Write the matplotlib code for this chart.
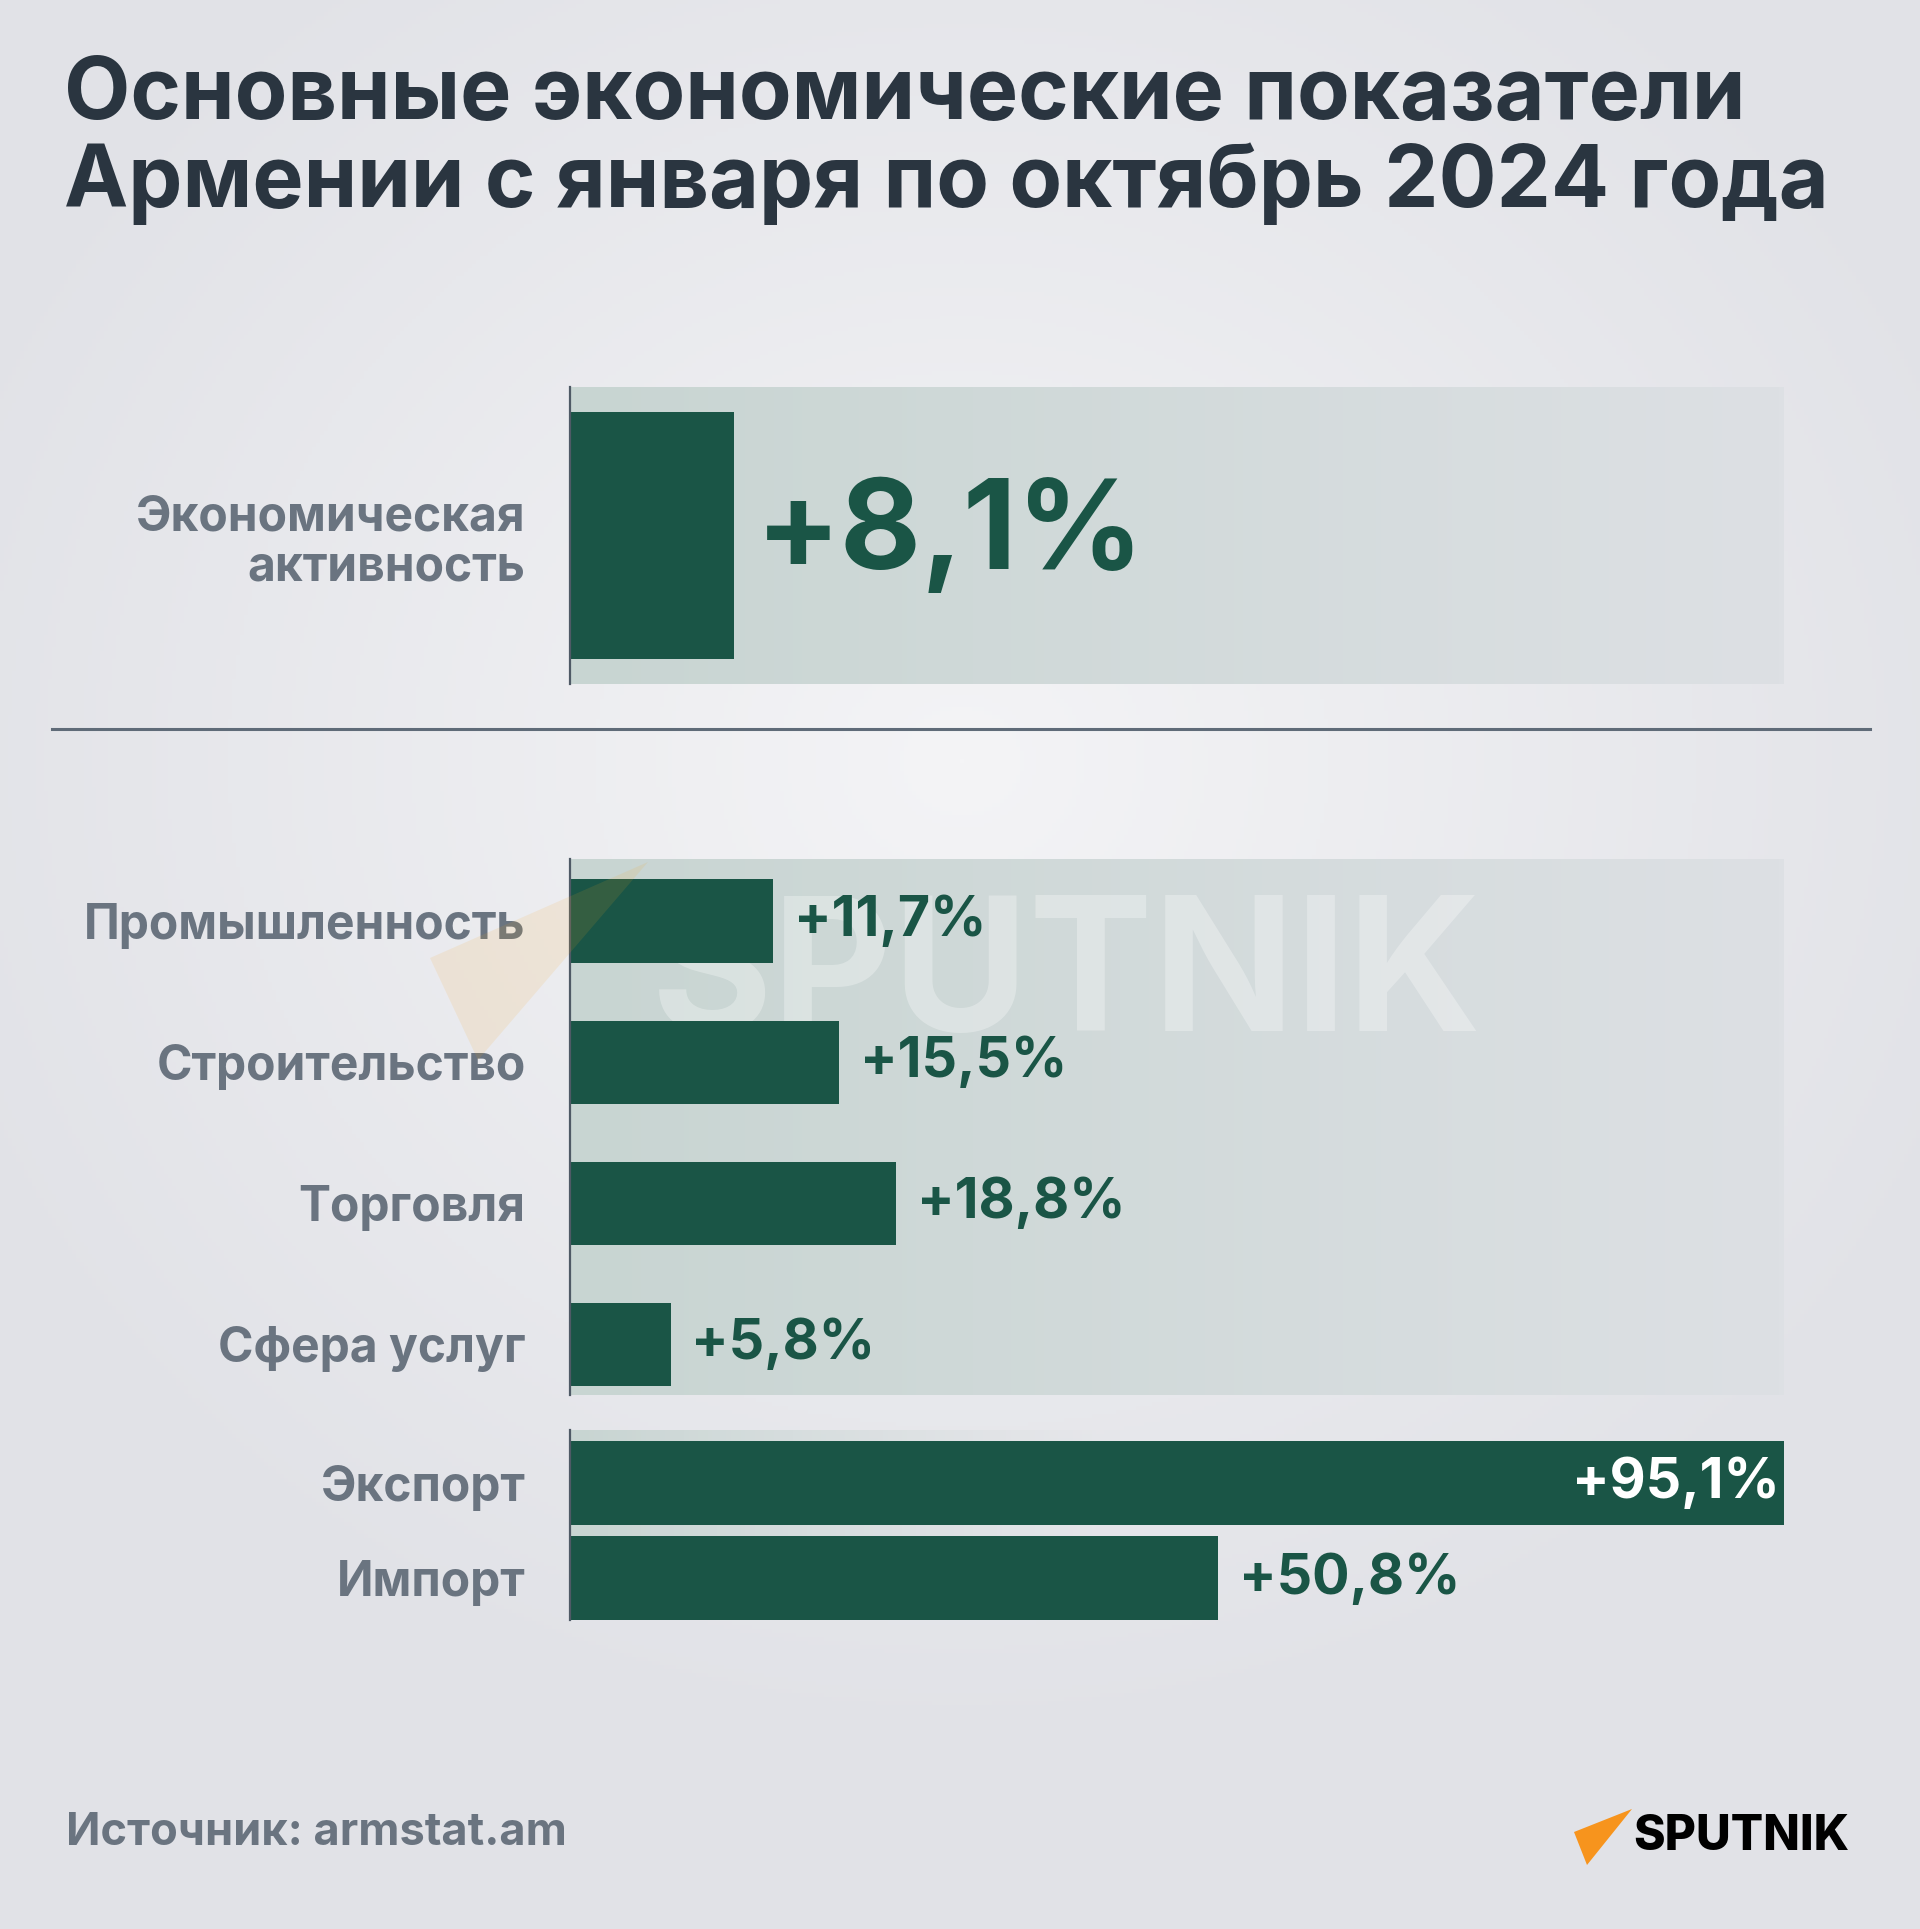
import matplotlib.pyplot as plt
import numpy as np
from matplotlib.colors import to_rgb
from matplotlib.patches import Polygon

plt.rcParams['font.family'] = ['Inter', 'DejaVu Sans']

# data
title = "Основные экономические показатели\nАрмении с января по октябрь 2024 года"
source = "Источник: armstat.am"

top_labels = ["Экономическая\nактивность"]
top_values = [8.1]

mid_labels = ["Промышленность", "Строительство", "Торговля", "Сфера услуг"]
mid_values = [11.7, 15.5, 18.8, 5.8]

trade_labels = ["Экспорт", "Импорт"]
trade_values = [95.1, 50.8]

GREEN = "#1a5546"
GREY = "#6a7480"
DARK = "#2a3540"
AXIS = "#4f5a66"

W, H = 1920, 1929
fig = plt.figure(figsize=(W / 100, H / 100), dpi=100)


def box(x0, y0, x1, y1):
    # pixel box (top-left origin) -> figure fraction rect
    return [x0 / W, 1 - y1 / H, (x1 - x0) / W, (y1 - y0) / H]


def fmt(v):
    return f"+{v:.1f}%".replace(".", ",")


# background: soft radial light in the middle
bg = fig.add_axes([0, 0, 1, 1], zorder=-10)
yy, xx = np.mgrid[0:H:4, 0:W:4]
r = np.sqrt(((xx - 960) / 1100) ** 2 + ((yy - 760) / 1000) ** 2)
t = np.clip(r, 0, 1)[..., None]
c0 = np.array(to_rgb("#f4f4f6"))
c1 = np.array(to_rgb("#e1e2e7"))
bg.imshow(c0 * (1 - t) + c1 * t, extent=[0, W, H, 0], aspect="auto")
bg.set_xlim(0, W)
bg.set_ylim(H, 0)
bg.axis("off")


def panel_bg(rect, fade=False):
    a = fig.add_axes(rect, zorder=-5)
    g = np.linspace(0, 1, 256)[None, :, None]
    left = np.array(to_rgb("#c8d5d2"))
    right = np.array(to_rgb("#dde0e4"))
    img = left * (1 - g) + right * g
    if fade:
        alpha = np.clip(1 - np.linspace(0, 1, 256) * 2.2, 0, 1)[None, :, None]
        img = np.concatenate([img, alpha], axis=2)
    a.imshow(img, extent=[0, 1, 0, 1], aspect="auto")
    a.axis("off")
    return a


def style(ax, xmax, ylim):
    ax.set_xlim(0, xmax)
    ax.set_ylim(*ylim)
    ax.patch.set_alpha(0)
    for s in ["top", "right", "bottom"]:
        ax.spines[s].set_visible(False)
    ax.spines["left"].set_color(AXIS)
    ax.spines["left"].set_linewidth(1.6)
    ax.set_xticks([])
    ax.tick_params(axis="y", length=0, pad=32, labelsize=34.5, labelcolor=GREY)
    for lab in ax.get_yticklabels():
        lab.set_fontweight("bold")
        lab.set_linespacing(1.1)


# top panel: economic activity
rect_top = box(570, 387, 1784, 684)
panel_bg(rect_top)
ax_top = fig.add_axes(rect_top)
ax_top.barh(range(len(top_values)), top_values, height=0.83, color=GREEN)
ax_top.set_yticks(range(len(top_values)), top_labels)
style(ax_top, 60, (0.5, -0.5))
for i, v in enumerate(top_values):
    ax_top.annotate(fmt(v), (v, i), xytext=(16, 0), textcoords="offset points",
                    ha="left", va="center", fontsize=90, fontweight="bold", color=GREEN)

# separator
fig.add_artist(plt.Line2D([52 / W, 1870 / W], [1 - 729 / H] * 2, color="#5f6b78", lw=2.2))

# middle panel: sectors
rect_mid = box(570, 859, 1784, 1395)
panel_bg(rect_mid)
ax_mid = fig.add_axes(rect_mid)
ax_mid.barh(range(len(mid_values)), mid_values, height=0.59, color=GREEN)
ax_mid.set_yticks(range(len(mid_values)), mid_labels)
style(ax_mid, 70, (3.36, -0.44))

# watermark sits behind the bars
ax_mid.text(0.067, 0.77, "SPUTNIK", transform=ax_mid.transAxes, fontsize=134,
            fontweight="bold", color="white", alpha=0.3, va="center", ha="left", zorder=0.5)
wm = Polygon([[648 / W, 1 - 862 / H], [430 / W, 1 - 958 / H], [478 / W, 1 - 1060 / H]],
             closed=True, transform=fig.transFigure, facecolor="#f5a623", alpha=0.12,
             edgecolor="none")
fig.add_artist(wm)

for i, v in enumerate(mid_values):
    ax_mid.annotate(fmt(v), (v, i), xytext=(15, 0), textcoords="offset points",
                    ha="left", va="center", fontsize=40, fontweight="bold", color=GREEN)

# bottom: export / import
rect_bot = box(570, 1430, 1784, 1620)
panel_bg(rect_bot, fade=True)
ax_bot = fig.add_axes(rect_bot)
ax_bot.barh(range(len(trade_values)), trade_values, height=0.88, color=GREEN)
ax_bot.set_yticks(range(len(trade_values)), trade_labels)
style(ax_bot, max(trade_values), (1.435, -0.555))
for i, v in enumerate(trade_values):
    if v > 0.8 * max(trade_values):
        ax_bot.annotate(fmt(v), (v, i), xytext=(-3, 0), textcoords="offset points",
                        ha="right", va="center", fontsize=40, fontweight="bold", color="white")
    else:
        ax_bot.annotate(fmt(v), (v, i), xytext=(15, 0), textcoords="offset points",
                        ha="left", va="center", fontsize=40, fontweight="bold", color=GREEN)

# title and footer
fig.text(64 / W, 1 - 56 / H, title, ha="left", va="top", fontsize=62, fontweight="bold",
         color=DARK, linespacing=1.08)
fig.text(66 / W, 1 - 1833 / H, source, ha="left", va="center", fontsize=32.5,
         fontweight="bold", color=GREY)

logo = Polygon([[1632 / W, 1 - 1809 / H], [1574 / W, 1 - 1832 / H], [1587 / W, 1 - 1865 / H]],
               closed=True, transform=fig.transFigure, facecolor="#f7941d", edgecolor="none")
fig.add_artist(logo)
fig.text(1633 / W, 1 - 1837 / H, "SPUTNIK", ha="left", va="center", fontsize=34.5,
         fontweight="heavy", color="black")

fig.savefig("out.png", dpi=100)
